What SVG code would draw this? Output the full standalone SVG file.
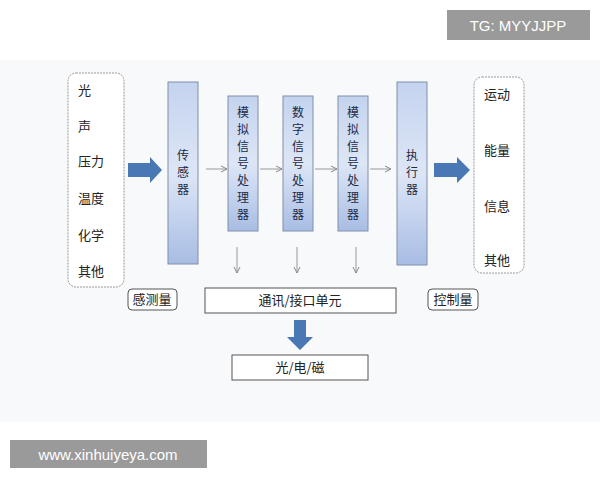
<svg xmlns="http://www.w3.org/2000/svg" width="600" height="480" viewBox="0 0 600 480">
<defs>
<linearGradient id="g" x1="0" y1="0" x2="0" y2="1"><stop offset="0" stop-color="#c4d3ee"/><stop offset="0.5" stop-color="#dde6f6"/><stop offset="1" stop-color="#a8bde4"/></linearGradient>
<marker id="a" markerWidth="8" markerHeight="8" refX="7" refY="4" orient="auto"><path d="M1,1 L7,4 L1,7" fill="none" stroke="#888" stroke-width="1"/></marker>
</defs>
<style>
.bar{fill:url(#g);stroke:#8090a8;stroke-width:1}
.t{font-family:"Noto Sans CJK SC",sans-serif;font-size:13px;fill:#222}
.v{font-family:"Noto Sans CJK SC",sans-serif;font-size:12px;fill:#1e2a44;text-anchor:middle}
.ln{stroke:#999;stroke-width:1;fill:none;marker-end:url(#a)}
.big{fill:#4a78b4}
.box{fill:#fff;stroke:#555;stroke-width:1}
</style>
<rect width="600" height="480" fill="#fff"/>
<rect x="0" y="60" width="600" height="362" fill="#f8f9fb"/>
<g id="inputs"><rect x="68" y="73" width="56" height="214" rx="8" fill="#fff" stroke="#999" stroke-dasharray="2,1"/>
<text class="t" x="78" y="95">光</text><text class="t" x="78" y="131">声</text><text class="t" x="78" y="166">压力</text><text class="t" x="78" y="203">温度</text><text class="t" x="78" y="240">化学</text><text class="t" x="78" y="276">其他</text></g>
<g id="sensor"><rect class="bar" x="168" y="82" width="30" height="182"/><text class="v" x="183" y="160">传</text><text class="v" x="183" y="177">感</text><text class="v" x="183" y="194">器</text></g>
<g id="m1"><rect class="bar" x="228" y="96" width="30" height="135"/><text class="v" x="243" y="117">模</text><text class="v" x="243" y="134">拟</text><text class="v" x="243" y="151">信</text><text class="v" x="243" y="168">号</text><text class="v" x="243" y="185">处</text><text class="v" x="243" y="202">理</text><text class="v" x="243" y="219">器</text></g>
<g id="m2"><rect class="bar" x="283" y="96" width="30" height="135"/><text class="v" x="298" y="117">数</text><text class="v" x="298" y="134">字</text><text class="v" x="298" y="151">信</text><text class="v" x="298" y="168">号</text><text class="v" x="298" y="185">处</text><text class="v" x="298" y="202">理</text><text class="v" x="298" y="219">器</text></g>
<g id="m3"><rect class="bar" x="338" y="96" width="30" height="135"/><text class="v" x="353" y="117">模</text><text class="v" x="353" y="134">拟</text><text class="v" x="353" y="151">信</text><text class="v" x="353" y="168">号</text><text class="v" x="353" y="185">处</text><text class="v" x="353" y="202">理</text><text class="v" x="353" y="219">器</text></g>
<g id="act"><rect class="bar" x="397" y="82" width="30" height="183"/><text class="v" x="412" y="160">执</text><text class="v" x="412" y="177">行</text><text class="v" x="412" y="194">器</text></g>
<g id="outputs"><rect x="474" y="77" width="50" height="196" rx="8" fill="#fff" stroke="#999" stroke-dasharray="2,1"/>
<text class="t" x="484" y="99">运动</text><text class="t" x="484" y="155">能量</text><text class="t" x="484" y="211">信息</text><text class="t" x="484" y="265">其他</text></g>
<g id="comm"><rect class="box" x="205" y="288" width="191" height="25"/><text class="t" x="300" y="305" text-anchor="middle">通讯/接口单元</text></g>
<g id="light"><rect class="box" x="232" y="355" width="136" height="25"/><text class="t" x="300" y="372" text-anchor="middle">光/电/磁</text></g>
<g id="sense"><rect class="box" x="128" y="289" width="49" height="21" rx="4"/><text class="t" x="152" y="304" text-anchor="middle" font-size="11">感测量</text></g>
<g id="ctrl"><rect class="box" x="428" y="289" width="50" height="21" rx="4"/><text class="t" x="453" y="304" text-anchor="middle" font-size="11">控制量</text></g>
<g id="connectors">
<path class="big" d="M128,163 H150 V157 L162,170 L150,183 V177 H128 Z"/>
<path class="big" d="M434,163 H457 V157 L470,170 L457,183 V177 H434 Z"/>
<path class="big" d="M294,320 H306 V337 H313 L300,350 L287,337 H294 Z"/>
<line class="ln" x1="206" y1="169" x2="227" y2="169"/>
<line class="ln" x1="260" y1="169" x2="282" y2="169"/>
<line class="ln" x1="315" y1="169" x2="337" y2="169"/>
<line class="ln" x1="370" y1="169" x2="391" y2="169"/>
<line class="ln" x1="237" y1="247" x2="237" y2="273"/>
<line class="ln" x1="297" y1="247" x2="297" y2="273"/>
<line class="ln" x1="356" y1="247" x2="356" y2="273"/>
</g>
<rect x="447" y="10" width="143" height="30" fill="#9a9a9a"/>
<text x="518" y="31" text-anchor="middle" font-family="Liberation Sans,sans-serif" font-size="15" fill="#fff">TG: MYYJJPP</text>
<rect x="10" y="440" width="197" height="28" fill="#9a9a9a"/>
<text x="108" y="460" text-anchor="middle" font-family="Liberation Sans,sans-serif" font-size="15" fill="#fff">www.xinhuiyeya.com</text>
</svg>
